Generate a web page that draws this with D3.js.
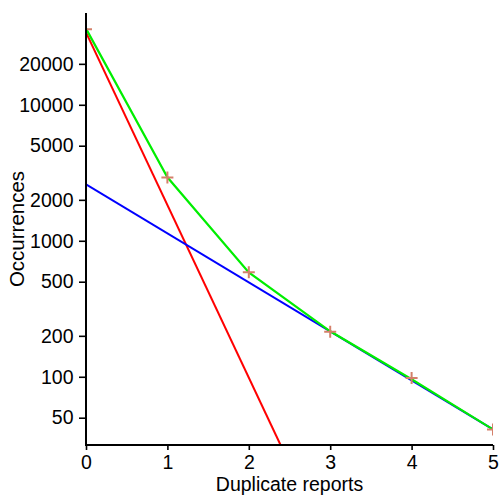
<!DOCTYPE html>
<html>
<head>
<meta charset="utf-8">
<script src="https://cdn.jsdelivr.net/npm/d3@7"></script>
<style>
  html, body { margin: 0; padding: 0; background: #fff; }
  svg { display: block; font-family: "Liberation Sans", Arial, Helvetica, sans-serif; }
</style>
</head>
<body>
<svg id="chart" width="500" height="495"></svg>
<script>
// ---- data ----
const duplicates = [0, 1, 2, 3, 4, 5];
const observed = [35900, 2925, 588, 214, 98, 41];
const fitTotal = [36300, 2930, 585, 216, 96, 41];
const redX = [0, 2.39];
const redY = [34100, 31.5];
const blueX = [0, 5];
const blueY = [2595, 41];
const xTicks = [0, 1, 2, 3, 4, 5];
const yTicks = [50, 100, 200, 500, 1000, 2000, 5000, 10000, 20000];
const xDomain = [0, 5];
const yDomain = [31.5, 47300];
const xTitle = "Duplicate reports";
const yTitle = "Occurrences";

// ---- layout ----
const W = 500, H = 495;
const margin = { left: 86, right: 7, top: 13, bottom: 50 };
const svg = d3.select("#chart");

const x = d3.scaleLinear().domain(xDomain).range([margin.left, W - margin.right]);
const y = d3.scaleLog().domain(yDomain).range([H - margin.bottom, margin.top]);

svg.append("defs").append("clipPath").attr("id", "plotclip")
  .append("rect")
  .attr("x", margin.left).attr("y", margin.top)
  .attr("width", W - margin.left - margin.right)
  .attr("height", H - margin.top - margin.bottom);

const plot = svg.append("g").attr("clip-path", "url(#plotclip)");

const line = d3.line().x(d => x(d[0])).y(d => y(d[1]));

plot.append("path")
  .datum(redX.map((v, i) => [v, redY[i]]))
  .attr("d", line).attr("fill", "none").attr("stroke", "#ff0000").attr("stroke-width", 2);

plot.append("path")
  .datum(blueX.map((v, i) => [v, blueY[i]]))
  .attr("d", line).attr("fill", "none").attr("stroke", "#0000ff").attr("stroke-width", 2);

plot.append("path")
  .datum(duplicates.map((v, i) => [v, fitTotal[i]]))
  .attr("d", line).attr("fill", "none").attr("stroke", "#00ee00").attr("stroke-width", 2.2);

const crossSize = 6;
const crosses = plot.selectAll("g.pt")
  .data(duplicates.map((v, i) => [v, observed[i]]))
  .join("g").attr("class", "pt")
  .attr("transform", d => `translate(${x(d[0])},${y(d[1])})`);
crosses.append("path")
  .attr("d", `M${-crossSize},0H${crossSize}M0,${-crossSize}V${crossSize}`)
  .attr("stroke", "#d4806a").attr("stroke-width", 2).attr("fill", "none");

// ---- axes ----
const fontSize = 19.5;
const xAxis = d3.axisBottom(x).tickValues(xTicks).tickFormat(d3.format("d"))
  .tickSize(5).tickSizeOuter(0).tickPadding(5.5);
const yAxis = d3.axisLeft(y).tickValues(yTicks).tickFormat(d => String(d))
  .tickSize(7).tickSizeOuter(0).tickPadding(5.5);

const gx = svg.append("g").attr("transform", `translate(0,${H - margin.bottom})`).call(xAxis);
const gy = svg.append("g").attr("transform", `translate(${margin.left},0)`).call(yAxis);

[gx, gy].forEach(g => {
  g.select(".domain").attr("stroke", "#000").attr("stroke-width", 2);
  g.selectAll(".tick line").attr("stroke", "#000").attr("stroke-width", 1.6);
  g.selectAll(".tick text").attr("fill", "#000").attr("font-size", fontSize)
    .attr("font-family", "'Liberation Sans', Arial, sans-serif");
});
// extend axes to meet in the corner
gx.select(".domain").attr("d", `M${margin.left - 1},0H${W - margin.right}`);
gy.select(".domain").attr("d", `M0,${margin.top}V${H - margin.bottom + 1}`);

// ---- titles ----
svg.append("text")
  .attr("x", (margin.left + W - margin.right) / 2)
  .attr("y", 490.8)
  .attr("text-anchor", "middle")
  .attr("font-size", 19.5)
  .attr("fill", "#000")
  .text(xTitle);

svg.append("text")
  .attr("transform", `translate(24,${(margin.top + H - margin.bottom) / 2}) rotate(-90)`)
  .attr("text-anchor", "middle")
  .attr("font-size", 20.5)
  .attr("fill", "#000")
  .text(yTitle);
</script>
</body>
</html>
